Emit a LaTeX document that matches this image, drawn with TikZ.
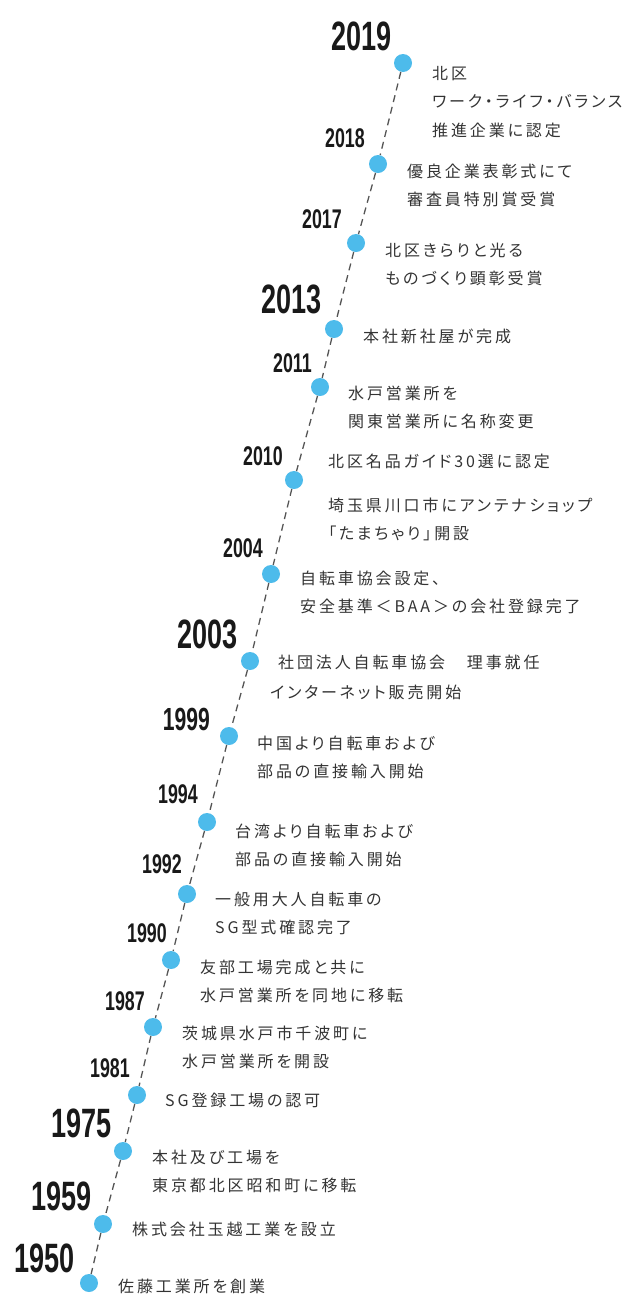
\documentclass[tikz,border=0pt]{standalone}
\usepackage{fontspec}
\usepackage{xcolor}
\newfontfamily\jpfont[LetterSpace=18,RawFeature=+palt]{Noto Sans CJK JP}
\newfontfamily\yearfont[FakeStretch=0.66]{Liberation Sans Bold}
\definecolor{dotblue}{RGB}{77,187,235}
\definecolor{txtgray}{RGB}{51,51,51}
\definecolor{linegray}{RGB}{85,85,85}

\begin{document}
\begin{tikzpicture}[x=1pt,y=-1pt]
            \tikzset{
            tl dot/.style={circle,fill=dotblue,minimum size=18pt,inner sep=0},
            tl year/.style={anchor=base east,inner sep=0,text=black!90,font=\yearfont\fontsize{27}{27}\selectfont},
            tl big/.style={tl year,font=\yearfont\fontsize{41}{41}\selectfont},
            tl mid/.style={tl year,font=\yearfont\fontsize{32}{32}\selectfont},
            tl text/.style={anchor=base west,inner sep=0,align=left,text=txtgray,font=\jpfont\fontsize{16}{28.5}\selectfont},
            tl line/.style={draw=linegray,line width=1.3pt,dash pattern=on 7pt off 5pt}
            }
            \useasboundingbox (0,0) rectangle (634,1296);
            % dots
            \node[tl dot] (d2019) at (403, 63) {};
            \node[tl dot] (d2018) at (378, 164) {};
            \node[tl dot] (d2017) at (356, 243) {};
            \node[tl dot] (d2013) at (334, 329) {};
            \node[tl dot] (d2011) at (320, 387) {};
            \node[tl dot] (d2010) at (294, 480) {};
            \node[tl dot] (d2004) at (271, 574) {};
            \node[tl dot] (d2003) at (250, 661) {};
            \node[tl dot] (d1999) at (229, 736) {};
            \node[tl dot] (d1994) at (207, 822) {};
            \node[tl dot] (d1992) at (187, 894) {};
            \node[tl dot] (d1990) at (171, 960) {};
            \node[tl dot] (d1987) at (153, 1027) {};
            \node[tl dot] (d1981) at (137, 1095) {};
            \node[tl dot] (d1975) at (123, 1151) {};
            \node[tl dot] (d1959) at (103, 1224) {};
            \node[tl dot] (d1950) at (89, 1283) {};

            % years
            \node[tl big] (y2019) at (392, 50) {2019};
            \node[tl year] (y2018) at (365, 147) {2018};
            \node[tl year] (y2017) at (342, 228) {2017};
            \node[tl big] (y2013) at (322, 313) {2013};
            \node[tl year] (y2011) at (312, 372) {2011};
            \node[tl year] (y2010) at (283, 465) {2010};
            \node[tl year] (y2004) at (263, 557) {2004};
            \node[tl big] (y2003) at (238, 648) {2003};
            \node[tl mid] (y1999) at (210, 730) {1999};
            \node[tl year] (y1994) at (198, 803) {1994};
            \node[tl year] (y1992) at (182, 873) {1992};
            \node[tl year] (y1990) at (167, 942) {1990};
            \node[tl year] (y1987) at (145, 1010) {1987};
            \node[tl year] (y1981) at (130, 1077) {1981};
            \node[tl big] (y1975) at (112, 1137) {1975};
            \node[tl big] (y1959) at (92, 1210) {1959};
            \node[tl big] (y1950) at (75, 1272) {1950};

            % events (base = last line)
            \node[tl text] (t2019) at (432, 136) {北区\\ワーク・ライフ・バランス\\推進企業に認定};
            \node[tl text] (t2018) at (407, 205.5) {優良企業表彰式にて\\審査員特別賞受賞};
            \node[tl text] (t2017) at (385, 284.5) {北区きらりと光る\\ものづくり顕彰受賞};
            \node[tl text] (t2013) at (363, 342) {本社新社屋が完成};
            \node[tl text] (t2011) at (348, 427.5) {水戸営業所を\\関東営業所に名称変更};
            \node[tl text] (t2010a) at (328, 467) {北区名品ガイド30選に認定};
            \node[tl text] (t2010b) at (328, 539.5) {埼玉県川口市にアンテナショップ\\「たまちゃり」開設};
            \node[tl text] (t2004) at (300, 612.5) {自転車協会設定、\\安全基準＜BAA＞の会社登録完了};
            \node[tl text] (t2003a) at (278, 668) {社団法人自転車協会　理事就任};
            \node[tl text] (t2003b) at (270, 698) {インターネット販売開始};
            \node[tl text] (t1999) at (257, 777.5) {中国より自転車および\\部品の直接輸入開始};
            \node[tl text] (t1994) at (235, 865.5) {台湾より自転車および\\部品の直接輸入開始};
            \node[tl text] (t1992) at (215, 933.5) {一般用大人自転車の\\SG型式確認完了};
            \node[tl text] (t1990) at (200, 1001.5) {友部工場完成と共に\\水戸営業所を同地に移転};
            \node[tl text] (t1987) at (182, 1067.5) {茨城県水戸市千波町に\\水戸営業所を開設};
            \node[tl text] (t1981) at (165, 1106) {SG登録工場の認可};
            \node[tl text] (t1975) at (152, 1191.5) {本社及び工場を\\東京都北区昭和町に移転};
            \node[tl text] (t1959) at (132, 1235) {株式会社玉越工業を設立};
            \node[tl text] (t1950) at (118, 1292) {佐藤工業所を創業};

            \path[tl line]
            (d2019) edge (d2018)
            (d2018) edge (d2017)
            (d2017) edge (d2013)
            (d2013) edge (d2011)
            (d2011) edge (d2010)
            (d2010) edge (d2004)
            (d2004) edge (d2003)
            (d2003) edge (d1999)
            (d1999) edge (d1994)
            (d1994) edge (d1992)
            (d1992) edge (d1990)
            (d1990) edge (d1987)
            (d1987) edge (d1981)
            (d1981) edge (d1975)
            (d1975) edge (d1959)
            (d1959) edge (d1950)
            ;
        \end{tikzpicture}
\end{document}
